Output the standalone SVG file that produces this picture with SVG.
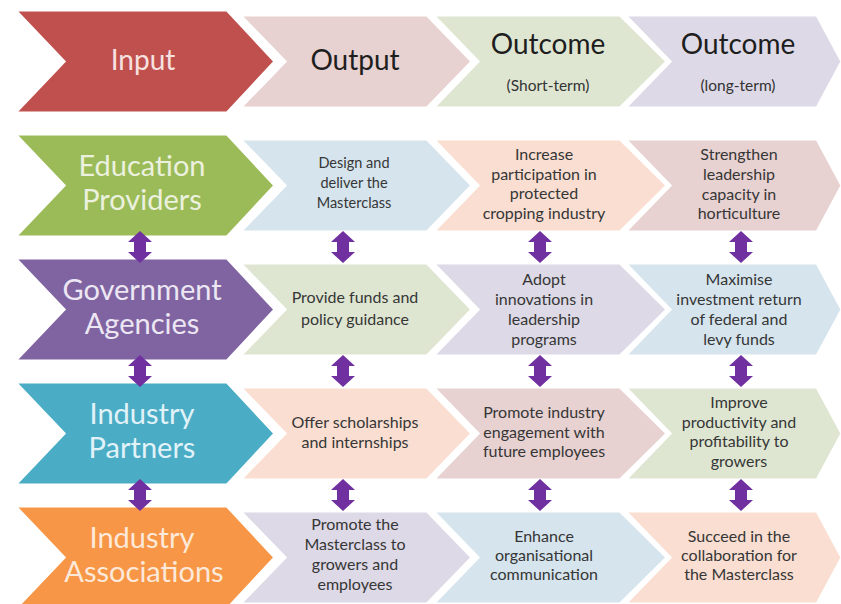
<svg xmlns="http://www.w3.org/2000/svg" width="841" height="604" viewBox="0 0 841 604">
  <style>
    .chev { stroke: #ffffff; stroke-width: 3; stroke-linejoin: miter; }
    .red { fill: #c0504d; }
    .green { fill: #9bbb59; }
    .purple { fill: #8064a2; }
    .teal { fill: #4bacc6; }
    .orange { fill: #f79646; }
    .pink { fill: #e7d1d1; }
    .mint { fill: #dee6d2; }
    .lav { fill: #ddd9e6; }
    .sky { fill: #d5e4ed; }
    .peach { fill: #f9ded1; }
    text { font-family: Lato, Carlito, "Open Sans", "Liberation Sans", sans-serif; text-anchor: middle; }
    .lbl { font-size: 29px; }
    .hdr { font-size: 28px; fill: #1e1e1e; }
    .sub { font-size: 15.5px; fill: #333333; }
    .body { font-size: 16px; fill: #363636; }
    .small { font-size: 14.5px; }
    .conn { fill: #7030a0; }
  </style>
  <defs>
    <!-- double-headed vertical connector, centred on 0,0 -->
    <polygon id="updown" points="0,-16 12,-5 6,-5 6,5 12,5 0,16 -12,5 -6,5 -6,-5 -12,-5"/>
  </defs>

  <!-- header row -->
  <g id="hdr-outcome-long">
    <polygon class="chev lav" points="625,15 817,15 842,61.5 817,108 625,108 670,61.5"/>
    <text class="hdr" x="738" y="54">Outcome</text>
    <text class="sub" x="738" y="91">(long-term)</text>
  </g>
  <g id="hdr-outcome-short">
    <polygon class="chev mint" points="433,15 620,15 667,61.5 620,108 433,108 478,61.5"/>
    <text class="hdr" x="548" y="54">Outcome</text>
    <text class="sub" x="548" y="91">(Short-term)</text>
  </g>
  <g id="hdr-output">
    <polygon class="chev pink" points="240,15 427,15 472,61.5 427,108 240,108 285,61.5"/>
    <text class="hdr" x="355" y="70">Output</text>
  </g>
  <g id="hdr-input">
    <polygon class="chev red" points="15,10 227,10 275,61.5 227,113 15,113 64,61.5"/>
    <text class="hdr" x="143" y="70" style="fill:#f7e1e0">Input</text>
  </g>

  <!-- Education Providers -->
  <g id="edu-long">
    <polygon class="chev pink" points="625,139 817,139 842,185.5 817,232 625,232 670,185.5"/>
    <text class="body" x="739" y="160">Strengthen</text>
    <text class="body" x="739" y="180">leadership</text>
    <text class="body" x="739" y="200">capacity in</text>
    <text class="body" x="739" y="219">horticulture</text>
  </g>
  <g id="edu-short">
    <polygon class="chev peach" points="433,139 620,139 667,185.5 620,232 433,232 478,185.5"/>
    <text class="body" x="544" y="160">Increase</text>
    <text class="body" x="544" y="180">participation in</text>
    <text class="body" x="544" y="199">protected</text>
    <text class="body" x="544" y="219">cropping industry</text>
  </g>
  <g id="edu-output">
    <polygon class="chev sky" points="240,139 427,139 472,185.5 427,232 240,232 285,185.5"/>
    <text class="body small" x="354" y="168">Design and</text>
    <text class="body small" x="354" y="188">deliver the</text>
    <text class="body small" x="354" y="208">Masterclass</text>
  </g>
  <g id="edu-input">
    <polygon class="chev green" points="15,134 227,134 275,185.5 227,237 15,237 64,185.5"/>
    <text class="lbl" x="142" y="176" style="fill:#ebf1de">Education</text>
    <text class="lbl" x="142" y="210" style="fill:#ebf1de">Providers</text>
  </g>

  <!-- Government Agencies -->
  <g id="gov-long">
    <polygon class="chev sky" points="625,263 817,263 842,309.5 817,356 625,356 670,309.5"/>
    <text class="body" x="739" y="285">Maximise</text>
    <text class="body" x="739" y="305">investment return</text>
    <text class="body" x="739" y="325">of federal and</text>
    <text class="body" x="739" y="345">levy funds</text>
  </g>
  <g id="gov-short">
    <polygon class="chev lav" points="433,263 620,263 667,309.5 620,356 433,356 478,309.5"/>
    <text class="body" x="544" y="285">Adopt</text>
    <text class="body" x="544" y="305">innovations in</text>
    <text class="body" x="544" y="325">leadership</text>
    <text class="body" x="544" y="345">programs</text>
  </g>
  <g id="gov-output">
    <polygon class="chev mint" points="240,263 427,263 472,309.5 427,356 240,356 285,309.5"/>
    <text class="body" x="355" y="303">Provide funds and</text>
    <text class="body" x="355" y="325">policy guidance</text>
  </g>
  <g id="gov-input">
    <polygon class="chev purple" points="15,258 227,258 275,309.5 227,361 15,361 64,309.5"/>
    <text class="lbl" x="142" y="300" style="fill:#ece7f3">Government</text>
    <text class="lbl" x="142" y="334" style="fill:#ece7f3">Agencies</text>
  </g>

  <!-- Industry Partners -->
  <g id="partner-long">
    <polygon class="chev mint" points="625,387 817,387 842,433.5 817,480 625,480 670,433.5"/>
    <text class="body" x="739" y="408">Improve</text>
    <text class="body" x="739" y="428">productivity and</text>
    <text class="body" x="739" y="447">profitability to</text>
    <text class="body" x="739" y="467">growers</text>
  </g>
  <g id="partner-short">
    <polygon class="chev pink" points="433,387 620,387 667,433.5 620,480 433,480 478,433.5"/>
    <text class="body" x="544" y="418">Promote industry</text>
    <text class="body" x="544" y="438">engagement  with</text>
    <text class="body" x="544" y="457">future employees</text>
  </g>
  <g id="partner-output">
    <polygon class="chev peach" points="240,387 427,387 472,433.5 427,480 240,480 285,433.5"/>
    <text class="body" x="355" y="428">Offer scholarships</text>
    <text class="body" x="355" y="448">and internships</text>
  </g>
  <g id="partner-input">
    <polygon class="chev teal" points="15,382 227,382 275,433.5 227,485 15,485 64,433.5"/>
    <text class="lbl" x="142" y="424" style="fill:#e1f3f8">Industry</text>
    <text class="lbl" x="142" y="458" style="fill:#e1f3f8">Partners</text>
  </g>

  <!-- Industry Associations -->
  <g id="assoc-long">
    <polygon class="chev peach" points="625,511 817,511 842,557.5 817,604 625,604 670,557.5"/>
    <text class="body" x="739" y="542">Succeed in the</text>
    <text class="body" x="739" y="561">collaboration for</text>
    <text class="body" x="739" y="580">the Masterclass</text>
  </g>
  <g id="assoc-short">
    <polygon class="chev sky" points="433,511 620,511 667,557.5 620,604 433,604 478,557.5"/>
    <text class="body" x="544" y="542">Enhance</text>
    <text class="body" x="544" y="561">organisational</text>
    <text class="body" x="544" y="580">communication</text>
  </g>
  <g id="assoc-output">
    <polygon class="chev lav" points="240,511 427,511 472,557.5 427,604 240,604 285,557.5"/>
    <text class="body" x="355" y="530">Promote the</text>
    <text class="body" x="355" y="550">Masterclass to</text>
    <text class="body" x="355" y="570">growers and</text>
    <text class="body" x="355" y="590">employees</text>
  </g>
  <g id="assoc-input">
    <polygon class="chev orange" points="15,506 227,506 275,557.5 227,609 15,609 64,557.5"/>
    <text class="lbl" x="142" y="548" style="fill:#fde9d9">Industry</text>
    <text class="lbl" x="144" y="582" style="fill:#fde9d9">Associations</text>
  </g>

  <!-- vertical two-way links between rows -->
  <g id="connectors" class="conn">
    <use href="#updown" x="140" y="247"/>
    <use href="#updown" x="343" y="247"/>
    <use href="#updown" x="540" y="247"/>
    <use href="#updown" x="741" y="247"/>
    <use href="#updown" x="140" y="371"/>
    <use href="#updown" x="343" y="371"/>
    <use href="#updown" x="540" y="371"/>
    <use href="#updown" x="741" y="371"/>
    <use href="#updown" x="140" y="495"/>
    <use href="#updown" x="343" y="495"/>
    <use href="#updown" x="540" y="495"/>
    <use href="#updown" x="741" y="495"/>
  </g>
</svg>
